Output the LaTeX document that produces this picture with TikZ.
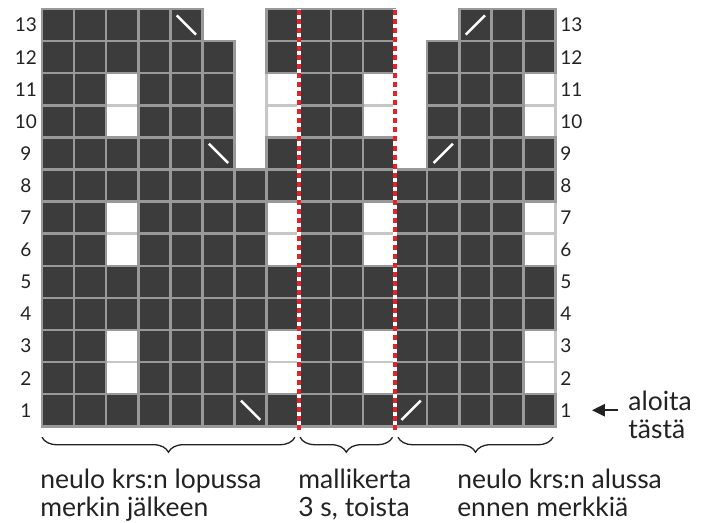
\documentclass[tikz,border=0pt]{standalone}
\usepackage{fontspec}
\setmainfont{Lato}
\usetikzlibrary{arrows.meta,positioning,decorations.pathreplacing}
\definecolor{stdark}{HTML}{3C3C3C}
\definecolor{stgrid}{HTML}{999999}
\definecolor{stlight}{HTML}{C6C6C6}
\definecolor{repred}{HTML}{E8202A}
\definecolor{txtdark}{HTML}{222222}
\newcommand{\chartrows}{%
  13/{d,d,d,d,b,n,n,d,d,d,d,n,n,s,d,d},
  12/{d,d,d,d,d,d,n,d,d,d,d,n,d,d,d,d},
  11/{d,d,w,d,d,d,n,w,d,d,w,n,d,d,d,w},
  10/{d,d,w,d,d,d,n,w,d,d,w,n,d,d,d,w},
  9/{d,d,d,d,d,b,n,d,d,d,d,n,s,d,d,d},
  8/{d,d,d,d,d,d,d,d,d,d,d,d,d,d,d,d},
  7/{d,d,w,d,d,d,d,w,d,d,w,d,d,d,d,w},
  6/{d,d,w,d,d,d,d,w,d,d,w,d,d,d,d,w},
  5/{d,d,d,d,d,d,d,d,d,d,d,d,d,d,d,d},
  4/{d,d,d,d,d,d,d,d,d,d,d,d,d,d,d,d},
  3/{d,d,w,d,d,d,d,w,d,d,w,d,d,d,d,w},
  2/{d,d,w,d,d,d,d,w,d,d,w,d,d,d,d,w},
  1/{d,d,d,d,d,d,b,d,d,d,d,s,d,d,d,d}}
\tikzset{
  stitch/.style={white, line width=2.5pt},
  c1w/.style={fill=white, draw=stlight, line width=2.5pt},
  c1d/.style={}, c1b/.style={}, c1s/.style={}, c1n/.style={},
  c2d/.style={fill=stdark, draw=stgrid, line width=2.5pt},
  c2b/.style={c2d, path picture={\draw[stitch] ([shift={(.2,-.2)}]path picture bounding box.north west) -- ++(.6,-.6);}},
  c2s/.style={c2d, path picture={\draw[stitch] ([shift={(.2,.2)}]path picture bounding box.south west) -- ++(.6,.6);}},
  c2w/.style={}, c2n/.style={},
  repline/.style={repred, line width=4pt, dash pattern=on 5pt off 4pt},
  rowlab/.style={font=\fontsize{19}{19}\selectfont, text=txtdark, inner sep=0pt},
  note/.style={font=\fontsize{26.5}{28}\selectfont, text=txtdark, align=left, anchor=base west, inner sep=0pt},
  brc/.style={txtdark, line width=1.3pt, decorate, decoration={brace, mirror, amplitude=15pt}},
  arr/.style={-{Triangle[length=13pt, width=12pt]}, txtdark, line width=2.2pt},
}
\begin{document}
\begin{tikzpicture}[x=32.1pt, y=32.1pt]
  \useasboundingbox (-1.308,-2.99) rectangle (20.81,13.28);
  \foreach \p in {1,2}
    \foreach \r/\cs in \chartrows
      \foreach \k [count=\i from 0] in \cs
        \path[c\p\k] (\i,\r-1) rectangle ++(1,1);
  \foreach \xx in {8,11} {
    \draw[white, line width=4pt] (\xx,-0.1) -- (\xx,13);
    \draw[repline] (\xx,-0.1) -- (\xx,13);
  }
  \foreach \r in {1,...,13} {
    \node[rowlab] (lrow\r) at (-0.5,\r-0.5) {\r};
    \node[rowlab, anchor=west] (rrow\r) at (16.14,\r-0.5) {\r};
  }
  \node[note, anchor=west] (start) at (18.26,0.36) {aloita\\tästä};
  \coordinate (tip) at (17.13,0.5);
  \draw[arr] (start.west |- tip) ++(-10pt,0) -- (tip);
  \draw[brc] (0,-0.34) -- (7.88,-0.34);
  \draw[brc] (8.04,-0.34) -- (10.92,-0.34);
  \draw[brc] (11.09,-0.34) -- (15.92,-0.34);
  \node[note] (notel) at (-0.06,-2.8) {neulo krs:n lopussa\\merkin jälkeen};
  \node[note] (notem) at (7.98,-2.8) {mallikerta\\3 s, toista};
  \node[note] (noter) at (12.93,-2.8) {neulo krs:n alussa\\ennen merkkiä};
\end{tikzpicture}
\end{document}
